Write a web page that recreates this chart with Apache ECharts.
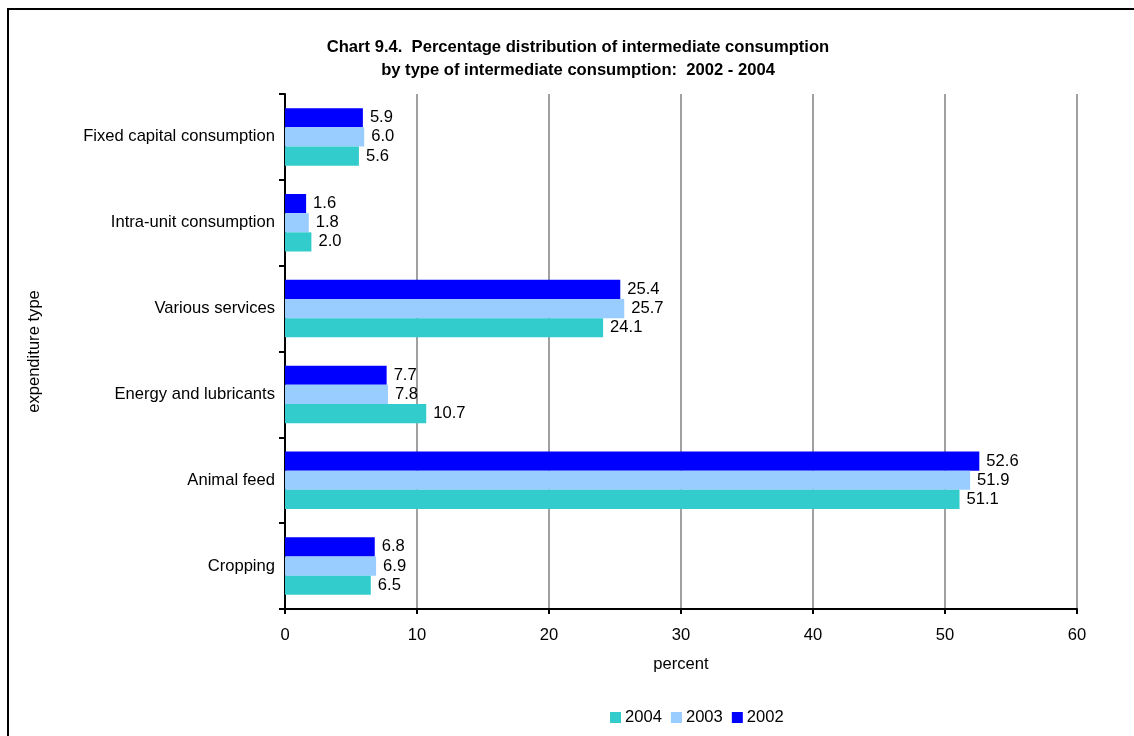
<!DOCTYPE html>
<html>
<head>
    <meta charset="utf-8">
    <title>Chart 9.4</title>
    <script src="https://cdn.jsdelivr.net/npm/echarts@6/dist/echarts.min.js"></script>
    <style>
        html, body { margin: 0; padding: 0; background: #fff; }
        #main { width: 1134px; height: 736px; }
    </style>
</head>
<body>
    <div id="main"></div>
    <script type="text/javascript">
// categories bottom to top, as on the y axis
var categories = ['Cropping', 'Animal feed', 'Energy and lubricants', 'Various services', 'Intra-unit consumption', 'Fixed capital consumption'];
var years = ['2004', '2003', '2002'];
var values2004 = [6.5, 51.1, 10.7, 24.1, 2.0, 5.6];
var values2003 = [6.9, 51.9, 7.8, 25.7, 1.8, 6.0];
var values2002 = [6.8, 52.6, 7.7, 25.4, 1.6, 5.9];
var colors = ['#33CCCC', '#99CCFF', '#0000FF'];

var font = 'Liberation Sans, Arial, sans-serif';
var fs = 16.6;
var myChart = echarts.init(document.getElementById('main'));

function barSeries(name, data, color) {
    return {
        name: name,
        type: 'bar',
        data: data,
        barGap: '0%',
        barCategoryGap: '33%',
        itemStyle: { color: color },
        label: {
            show: true,
            position: 'right',
            distance: 7,
            color: '#000',
            fontFamily: font,
            fontSize: fs,
            formatter: function (p) { return p.value.toFixed(1); }
        }
    };
}

var option = {
    animation: false,
    backgroundColor: '#fff',
    textStyle: { fontFamily: font },
    graphic: [{
        type: 'rect',
        shape: { x: 8, y: 9, width: 1140, height: 740 },
        style: { fill: 'none', stroke: '#000', lineWidth: 2 },
        z: -1
    }],
    title: {
        text: 'Chart 9.4.  Percentage distribution of intermediate consumption\nby type of intermediate consumption:  2002 - 2004',
        left: 573,
        textAlign: 'center',
        top: 31,
        textStyle: { fontFamily: font, fontSize: fs, fontWeight: 'bold', color: '#000', lineHeight: 23 }
    },
    legend: {
        data: years,
        top: 704,
        left: 605,
        itemWidth: 11,
        itemHeight: 11,
        itemGap: 9,
        icon: 'rect',
        textStyle: { fontFamily: font, fontSize: fs, color: '#000', padding: [0, 0, 0, -1] }
    },
    grid: { left: 285, right: 57, top: 94, bottom: 127, containLabel: false },
    xAxis: {
        type: 'value',
        min: 0,
        max: 60,
        interval: 10,
        name: 'percent',
        nameLocation: 'middle',
        nameGap: 47,
        nameTextStyle: { fontFamily: font, fontSize: fs, color: '#000' },
        axisLine: { show: true, lineStyle: { color: '#000', width: 2 } },
        axisTick: { show: true, length: 5, lineStyle: { color: '#000', width: 2 } },
        axisLabel: { margin: 18, fontFamily: font, fontSize: fs, color: '#000' },
        splitLine: { show: true, lineStyle: { color: '#a0a0a0', width: 2 } }
    },
    yAxis: {
        type: 'category',
        data: categories,
        name: 'expenditure type',
        nameLocation: 'middle',
        nameGap: 242,
        nameRotate: 90,
        nameTextStyle: { fontFamily: font, fontSize: fs, color: '#000' },
        axisLine: { show: true, lineStyle: { color: '#000', width: 2 } },
        axisTick: { show: true, length: 6, inside: false, lineStyle: { color: '#000', width: 2 } },
        axisLabel: { margin: 10, fontFamily: font, fontSize: fs, color: '#000' },
        splitLine: { show: false }
    },
    // first series is drawn at the top of each group
    series: [
        barSeries(years[2], values2002, colors[2]),
        barSeries(years[1], values2003, colors[1]),
        barSeries(years[0], values2004, colors[0])
    ]
};

myChart.setOption(option);
    </script>
</body>
</html>
